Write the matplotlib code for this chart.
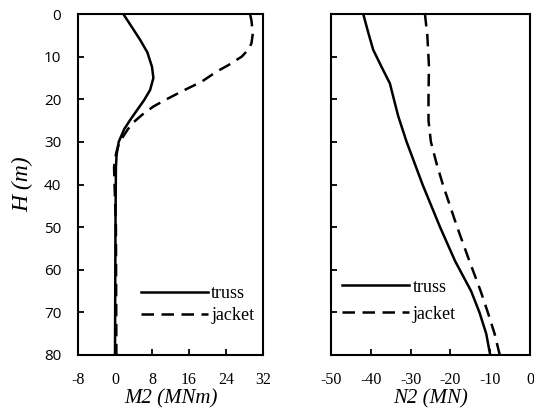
import matplotlib.pyplot as plt

plt.rcParams['font.family'] = ['Liberation Serif', 'DejaVu Serif']
plt.rcParams['axes.unicode_minus'] = False

# M2 - truss
h_m2_truss = [0, 3, 6, 9, 12.4, 15, 17.8, 20.2, 22.5, 24.5, 27, 30, 33, 36, 50, 80]
m2_truss = [1.8, 3.6, 5.4, 7.0, 8.0, 8.3, 7.6, 6.3, 4.8, 3.5, 2.0, 0.8, 0.35, 0.2, 0.1, 0.0]
# M2 - jacket
h_m2_jacket = [0, 1.5, 4.6, 6.9, 8.4, 10, 12, 13.5, 15.9, 17.8, 19.8, 21.7, 23.7, 25.5, 27, 30, 32, 34, 36, 40, 50, 80]
m2_jacket = [29.2, 29.5, 29.8, 29.5, 28.8, 27.4, 24.5, 22.0, 18.7, 15.1, 11.5, 8.3, 5.8, 3.9, 2.8, 1.0, 0.4, 0.0, -0.2, -0.1, 0.2, 0.3]

# N2 - truss
h_n2_truss = [0, 4.5, 8.4, 12.4, 16.3, 20, 24, 30, 40, 50, 58, 65, 70, 75, 80]
n2_truss = [-41.9, -40.6, -39.4, -37.3, -35.2, -34.2, -33.1, -31.0, -27.0, -22.6, -18.8, -14.8, -12.7, -11.0, -10.0]
# N2 - jacket
h_n2_jacket = [0, 5, 12, 20, 25, 30, 35, 40, 50, 58, 65, 70, 75, 80]
n2_jacket = [-26.4, -25.8, -25.4, -25.5, -25.5, -24.9, -23.5, -21.9, -18.3, -15.2, -12.4, -10.6, -8.9, -7.6]

fig = plt.figure(figsize=(5.34, 4.12), dpi=100)
ax1 = fig.add_axes([78/534, 57/412, 185/534, 341/412])
ax2 = fig.add_axes([331/534, 57/412, 199/534, 341/412])

dash = (0, (5, 3))
for ax in (ax1, ax2):
    for s in ax.spines.values():
        s.set_linewidth(1.5)
    ax.tick_params(direction='in', width=1.3, length=4.5)
    ax.tick_params(axis='x', pad=12, labelsize=11.5)
    ax.tick_params(axis='y', pad=12, labelsize=11)
    ax.set_ylim(80, 0)
    ax.set_yticks(range(0, 81, 10))

ax1.plot(m2_truss, h_m2_truss, color='black', lw=1.8, label='truss')
ax1.plot(m2_jacket, h_m2_jacket, color='black', lw=1.8, linestyle=dash, label='jacket')
ax1.set_xlim(-8, 32)
ax1.set_xticks(range(-8, 33, 8))
for t in ax1.get_yticklabels():
    t.set_family('Open Sans')
ax1.set_xlabel('M2 (MNm)', style='italic', fontsize=15)
ax1.xaxis.set_label_coords(0.5, -0.1)
ax1.set_ylabel('H (m)', style='italic', fontsize=17)
ax1.yaxis.set_label_coords(-0.24, 0.5)
ax1.legend(loc='upper left', bbox_to_anchor=(0.3, 0.225), frameon=False, fontsize=13,
           handlelength=3.7, handletextpad=0.2, labelspacing=0.25, borderaxespad=0)

ax2.plot(n2_truss, h_n2_truss, color='black', lw=1.8, label='truss')
ax2.plot(n2_jacket, h_n2_jacket, color='black', lw=1.8, linestyle=dash, label='jacket')
ax2.set_xlim(-50, 0)
ax2.set_xticks(range(-50, 1, 10))
ax2.set_yticklabels([])
ax2.set_xlabel('N2 (MN)', style='italic', fontsize=15)
ax2.xaxis.set_label_coords(0.5, -0.1)
ax2.legend(loc='upper left', bbox_to_anchor=(0.02, 0.245), frameon=False, fontsize=13,
           handlelength=3.7, handletextpad=0.2, labelspacing=0.55, borderaxespad=0)

fig.savefig('out.png', dpi=100)
